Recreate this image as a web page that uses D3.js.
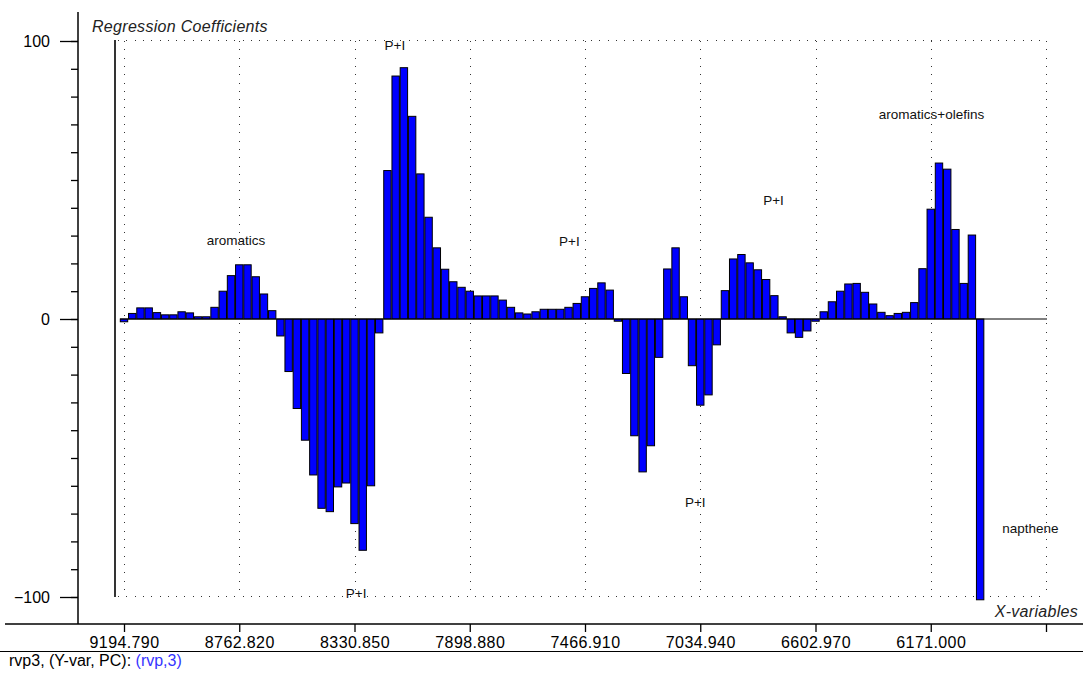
<!DOCTYPE html>
<html>
<head>
<meta charset="utf-8">
<script src="https://cdn.jsdelivr.net/npm/d3@7"></script>
<style>
  body { margin: 0; background: #fff; }
  svg { display: block; font-family: "Liberation Sans", Arial, sans-serif; }
</style>
</head>
<body>
<svg id="chart"></svg>
<script>
const width = 1083;
const height = 673;

// regression coefficient per x-variable (bar order left to right)
const coefficients = [
  -1, 2, 4, 4, 2.3, 1.5, 1.5, 2.6, 2.2, 0.8,
  0.8, 4.2, 10, 15.6, 19.5, 19.5, 15.2, 9, 3, -6.1,
  -18.9, -32.2, -43.6, -56.1, -68.1, -69.3, -60.4, -59, -73.6, -83.2,
  -60, -5, 53.4, 87.4, 90.4, 72.9, 52.2, 36.6, 25.6, 17.9,
  13.4, 11.4, 10, 8.3, 8.3, 8.3, 6.8, 4.2, 2.2, 1.8,
  2.6, 3.5, 3.5, 3.5, 4.2, 5.6, 8, 11, 13, 10.4,
  -0.8, -19.6, -42, -55, -45.6, -13.8, 18, 25.6, 8, -16.8,
  -31, -27.3, -9.3, 10.2, 21.6, 23.2, 20.2, 17.7, 14.2, 8.4,
  0.8, -5, -6.6, -4.3, -0.8, 2.6, 6.2, 10, 12.6, 12.8,
  9.6, 5.4, 2.4, 1.2, 2, 2.4, 5.9, 18.1, 39.5, 56.1,
  53.9, 32.2, 12.8, 30.2, -101
];

const tickIndex = [0, 14, 28, 42, 56, 70, 84, 98, 112];
const tickLabels = ["9194.790", "8762.820", "8330.850", "7898.880", "7466.910",
  "7034.940", "6602.970", "6171.000", ""];

const yMajor = [-100, 0, 100];
const yMinor = d3.range(-100, 101, 10);

// text notes, anchored in data units (bar index, coefficient)
const noteText = ["aromatics", "P+I", "P+I", "P+I", "P+I", "P+I", "aromatics+olefins", "napthene"];
const noteIndex = [13.6, 32.9, 54.1, 78.9, 69.4, 28.2, 98.1, 110.1];
const noteValue = [26.6, 96.9, 26.3, 41, -67.7, -100.4, 72, -77];

const svg = d3.select("#chart")
  .attr("width", width)
  .attr("height", height);

const x = d3.scaleLinear()
  .domain([0, 112])
  .range([124, 1046]);

const y = d3.scaleLinear()
  .domain([-100, 100])
  .range([597, 41]);

const barW = 7.4;
const axisY = 624;
const axisX = 78;

//* dotted grid
const grid = svg.append("g")
  .attr("stroke", "#333")
  .attr("stroke-width", 1)
  .attr("stroke-dasharray", "1,7.3")
  .attr("shape-rendering", "crispEdges");

grid.selectAll("line.v")
  .data(tickIndex)
  .join("line")
  .attr("class", "v")
  .attr("x1", d => Math.round(x(d)) + 0.5)
  .attr("x2", d => Math.round(x(d)) + 0.5)
  .attr("y1", y(100))
  .attr("y2", y(-100));

grid.selectAll("line.h")
  .data([100, -100])
  .join("line")
  .attr("class", "h")
  .attr("x1", 118)
  .attr("x2", x(112))
  .attr("y1", d => Math.round(y(d)) - 0.5)
  .attr("y2", d => Math.round(y(d)) - 0.5);

// left frame of the plot
svg.append("line")
  .attr("x1", 115).attr("x2", 115)
  .attr("y1", y(100) - 1).attr("y2", y(-100))
  .attr("stroke", "#000")
  .attr("stroke-width", 1.6);

//* bars
svg.append("g")
  .selectAll("rect")
  .data(coefficients)
  .join("rect")
  .attr("x", (d, i) => x(i) - barW / 2)
  .attr("width", barW)
  .attr("y", d => d > 0 ? y(d) : y(0))
  .attr("height", d => Math.abs(y(d) - y(0)))
  .attr("fill", "#0000ff")
  .attr("stroke", "#000")
  .attr("stroke-width", 1);

// zero line
svg.append("line")
  .attr("x1", 120).attr("x2", x(112) + 1)
  .attr("y1", y(0)).attr("y2", y(0))
  .attr("stroke", "#000")
  .attr("stroke-width", 1);

//* y axis
const yAxisG = svg.append("g")
  .attr("transform", `translate(${axisX},0)`)
  .call(d3.axisLeft(y).tickValues(yMinor).tickSize(7).tickFormat(""))
  .call(g => g.select(".domain").remove());

svg.append("g")
  .attr("transform", `translate(${axisX},0)`)
  .call(d3.axisLeft(y).tickValues(yMajor).tickSize(18).tickPadding(10))
  .call(g => g.select(".domain").remove())
  .call(g => g.selectAll("text")
    .attr("font-family", "Liberation Sans, Arial, sans-serif")
    .attr("font-size", 16)
    .attr("fill", "#000"));

svg.selectAll(".tick line").attr("stroke", "#000").attr("stroke-width", 1.3);

svg.append("line")
  .attr("x1", axisX).attr("x2", axisX)
  .attr("y1", 12).attr("y2", axisY)
  .attr("stroke", "#000")
  .attr("stroke-width", 1.5);

//* x axis
svg.append("g")
  .attr("transform", `translate(0,${axisY})`)
  .call(d3.axisBottom(x).tickValues(tickIndex).tickSize(8).tickPadding(5)
    .tickFormat((d, i) => tickLabels[i]))
  .call(g => g.select(".domain").remove())
  .call(g => g.selectAll("line").attr("stroke", "#000").attr("stroke-width", 1.3))
  .call(g => g.selectAll("text")
    .attr("font-family", "Liberation Sans, Arial, sans-serif")
    .attr("font-size", 16)
    .attr("letter-spacing", 0.4)
    .attr("fill", "#000"));

svg.append("line")
  .attr("x1", 5).attr("x2", width)
  .attr("y1", axisY).attr("y2", axisY)
  .attr("stroke", "#000")
  .attr("stroke-width", 1.5);

// separator above the footer
svg.append("line")
  .attr("x1", 0).attr("x2", width)
  .attr("y1", 651.5).attr("y2", 651.5)
  .attr("stroke", "#000")
  .attr("stroke-width", 1);

//* titles
svg.append("text")
  .attr("x", 92)
  .attr("y", 32)
  .attr("font-size", 16)
  .attr("font-style", "italic")
  .attr("letter-spacing", 0.3)
  .attr("fill", "#222")
  .text("Regression Coefficients");

svg.append("text")
  .attr("x", 1078)
  .attr("y", 617)
  .attr("text-anchor", "end")
  .attr("font-size", 16)
  .attr("font-style", "italic")
  .attr("letter-spacing", 0.3)
  .attr("fill", "#222")
  .text("X-variables");

//* notes
svg.append("g")
  .selectAll("text")
  .data(noteText)
  .join("text")
  .attr("x", (d, i) => x(noteIndex[i]))
  .attr("y", (d, i) => y(noteValue[i]))
  .attr("text-anchor", "middle")
  .attr("font-size", 13.5)
  .attr("fill", "#111")
  .text(d => d);

//* footer
const footer = svg.append("text")
  .attr("x", 9)
  .attr("y", 666)
  .attr("font-size", 16);
footer.append("tspan").attr("fill", "#000").text("rvp3, (Y-var, PC): ");
footer.append("tspan").attr("fill", "#3535ff").text("(rvp,3)");
</script>
</body>
</html>
